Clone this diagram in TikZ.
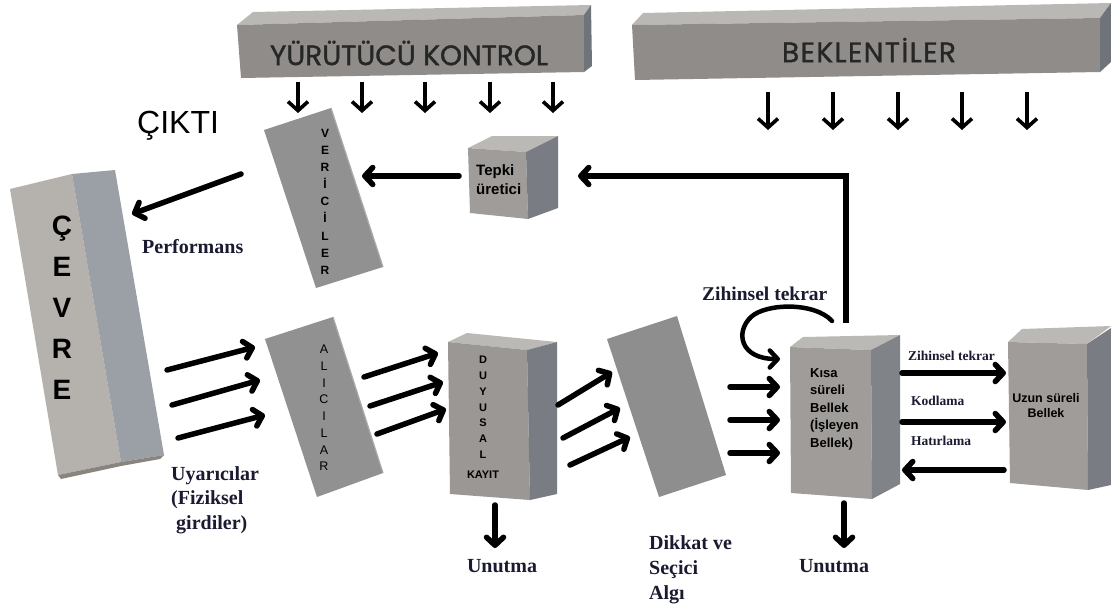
\documentclass[tikz,border=0pt]{standalone}
\usepackage{fontspec}
\setmainfont{Liberation Serif}
\setsansfont{Liberation Sans}
\newfontfamily\geofont{Poppins}[FakeBold=1.2]
\newfontfamily\geowide{Poppins}[FakeBold=1.2,LetterSpace=5]
\usetikzlibrary{arrows.meta}

\definecolor{barTop}{HTML}{BAB8B4}
\definecolor{barFront}{HTML}{8F8C89}
\definecolor{barSide}{HTML}{6F747A}
\definecolor{boxTop}{HTML}{BBB9B6}
\definecolor{boxFront}{HTML}{9F9C99}
\definecolor{boxSide}{HTML}{797D83}
\definecolor{slabFill}{HTML}{919191}
\definecolor{slabEdge}{HTML}{A8ACB1}
\definecolor{envFront}{HTML}{B5B1AC}
\definecolor{envSide}{HTML}{9BA0A6}
\definecolor{envBottom}{HTML}{8A847E}
\definecolor{labelInk}{HTML}{1A1A30}

\begin{document}
\begin{tikzpicture}[x=1pt,y=-1pt,
  flow/.style={line width=5.5pt, line cap=round, line join=round,
     -{Straight Barb[length=8pt,width=17pt,round]}},
  drop/.style={line width=3.6pt, -{Straight Barb[length=9pt,width=20pt]}},
  tag/.style={inner sep=0pt, text=labelInk, font=\bfseries\fontsize{20}{25}\selectfont, align=left},
  smalltag/.style={inner sep=0pt, text=labelInk, font=\bfseries\fontsize{13.5}{16}\selectfont},
  boxtext/.style={inner sep=0pt, font=\sffamily\bfseries\fontsize{13}{17.5}\selectfont},
  stack/.style={inner sep=0pt, align=center, font=\sffamily\bfseries\fontsize{12}{#1}\selectfont},
  bartext/.style={inner sep=0pt, text=black!85}
]
\useasboundingbox (0,0) rectangle (1111,608);
\fill[white] (0,0) rectangle (1111,608);

% ---------- executive control bar ----------
\fill[barTop]   (237,25) -- (253,12) -- (591,5) -- (584,15) -- cycle;
\fill[barFront] (237,25) -- (584,15) -- (584,72) -- (241,78) -- cycle;
\fill[barSide]  (584,15) -- (591,5) -- (592,66) -- (584,72) -- cycle;
\node[bartext, font=\geofont\fontsize{28}{30}\selectfont] (exec) at (409,53) {YÜRÜTÜCÜ KONTROL};
\foreach \i/\x in {1/298,2/362,3/425,4/490,5/553}{
  \coordinate (ea\i) at (\x,82); \coordinate (eb\i) at (\x,113);
  \draw[drop] (ea\i) -- (eb\i);
}

% ---------- expectations bar ----------
\fill[barTop]   (632,25) -- (643,13) -- (1111,3) -- (1100,18) -- cycle;
\fill[barFront] (632,25) -- (1100,18) -- (1100,72) -- (635,80) -- cycle;
\fill[barSide]  (1100,18) -- (1111,3) -- (1111,62) -- (1100,72) -- cycle;
\node[bartext, font=\geowide\fontsize{28}{30}\selectfont] (expect) at (869,50) {BEKLENTİLER};
\foreach \i/\x in {1/768,2/833,3/898,4/962,5/1027}{
  \coordinate (xa\i) at (\x,92); \coordinate (xb\i) at (\x,130);
  \draw[drop] (xa\i) -- (xb\i);
}

% ---------- environment ----------
\fill[envFront]  (10,189) -- (72,174) -- (121,462) -- (58,475) -- cycle;
\fill[envSide]   (72,174) -- (115,170) -- (164,455) -- (121,462) -- cycle;
\fill[envBottom] (58,475) -- (121,462) -- (164,455) -- (160,459) -- (121,466) -- (61,479) -- cycle;
\node[inner sep=0pt, anchor=north, align=center,
      font=\sffamily\bfseries\fontsize{28}{41}\selectfont] (env) at (62,216) {Ç\\E\\V\\R\\E};

\node[inner sep=0pt, anchor=base west, font=\sffamily\fontsize{32}{36}\selectfont] (out) at (137,133) {ÇIKTI};

% ---------- transmitters ----------
\fill[slabFill] (264,130) -- (331,108) -- (383,267) -- (316,288) -- cycle;
\draw[slabEdge, line width=1.2pt] (331,108) -- (383,267);
\node[stack=17.1, anchor=north] (trans) at (325,129) {V\\E\\R\\İ\\C\\İ\\L\\E\\R};

% ---------- receivers ----------
\fill[slabFill] (265,339) -- (333,317) -- (383,473) -- (317,497) -- cycle;
\draw[slabEdge, line width=1.2pt] (333,317) -- (383,473);
\node[stack=16.7, anchor=north, font=\sffamily\fontsize{12.5}{16.7}\selectfont] (recv) at (324,345) {A\\L\\I\\C\\I\\L\\A\\R};

% ---------- attention filter ----------
\fill[slabFill!103] (607,339) -- (677,316) -- (726,475) -- (659,497) -- cycle;

% ---------- response generator ----------
\fill[boxTop]   (468,148) -- (492,136) -- (558,136) -- (526,152) -- cycle;
\fill[boxFront] (468,148) -- (526,152) -- (528,219) -- (470,213) -- cycle;
\fill[boxSide]  (526,152) -- (558,136) -- (558,208) -- (528,219) -- cycle;
\node[boxtext, anchor=north west, align=left, font=\sffamily\bfseries\fontsize{15}{19}\selectfont]
  (resp) at (476,164) {Tepki\\üretici};

% ---------- sensory register ----------
\fill[boxTop]   (448,342) -- (467,333) -- (557,342) -- (527,350) -- cycle;
\fill[boxFront!105] (448,342) -- (527,350) -- (530,500) -- (450,494) -- cycle;
\fill[boxSide]  (527,350) -- (557,342) -- (557,494) -- (530,500) -- cycle;
\node[inner sep=0pt, anchor=north, align=center, font=\sffamily\bfseries\fontsize{11}{15.8}\selectfont]
  (sens) at (483,356) {D\\U\\Y\\U\\S\\A\\L\\[4pt]KAYIT};

% ---------- short-term memory ----------
\fill[boxTop]   (790,347) -- (803,337) -- (900,335) -- (871,350) -- cycle;
\fill[boxFront] (790,347) -- (871,350) -- (872,499) -- (791,493) -- cycle;
\fill[boxSide!95]  (871,350) -- (900,335) -- (900,484) -- (872,499) -- cycle;
\node[boxtext, anchor=north west, align=left] (stm) at (810,368)
  {Kısa\\süreli\\Bellek\\(İşleyen\\Bellek)};

% ---------- long-term memory ----------
\fill[boxTop]   (1008,342) -- (1022,329) -- (1111,326) -- (1087,344) -- cycle;
\fill[boxFront] (1008,342) -- (1087,344) -- (1088,490) -- (1010,483) -- cycle;
\fill[boxSide]  (1087,344) -- (1111,328) -- (1111,485) -- (1088,490) -- cycle;
\node[boxtext, anchor=north, align=center, font=\sffamily\bfseries\fontsize{12.5}{15.5}\selectfont]
  (ltm) at (1046,393) {Uzun süreli\\Bellek};

% ---------- connectors ----------
% performance back to the environment
\coordinate (perfS) at (241,174); \coordinate (perfE) at (132,214);
\draw[flow] (perfS) -- (perfE);
% response generator to transmitters
\coordinate (respS) at (459,176); \coordinate (respE) at (362,176);
\draw[flow] (respS) -- (respE);
% feedback from short-term memory to response generator
\coordinate (fbS) at (846,323); \coordinate (fbE) at (578,176);
\draw[flow, line cap=butt, line join=miter] (fbS) |- (fbE);

% stimuli into receivers
\foreach \i/\ax/\ay/\bx/\by in {1/167/370/255/347, 2/172/405/260/380, 3/178/438/265/415}{
  \coordinate (ua\i) at (\ax,\ay); \coordinate (ub\i) at (\bx,\by);
  \draw[flow] (ua\i) -- (ub\i);
}
% receivers into sensory register
\foreach \i/\ax/\ay/\bx/\by in {1/364/377/438/353, 2/370/406/443/382, 3/377/434/446/409}{
  \coordinate (ra\i) at (\ax,\ay); \coordinate (rb\i) at (\bx,\by);
  \draw[flow] (ra\i) -- (rb\i);
}
% sensory register into attention
\foreach \i/\ax/\ay/\bx/\by in {1/558/405/612/372, 2/563/438/620/408, 3/570/465/630/437}{
  \coordinate (sa\i) at (\ax,\ay); \coordinate (sb\i) at (\bx,\by);
  \draw[flow] (sa\i) -- (sb\i);
}
% attention into short-term memory
\foreach \i/\y in {1/387,2/420,3/453}{
  \coordinate (da\i) at (730,\y); \coordinate (db\i) at (780,\y);
  \draw[flow] (da\i) -- (db\i);
}
% rehearsal loop
\coordinate (lpS) at (832,321); \coordinate (lpE) at (780,359);
\draw[flow, line width=4.5pt] (lpS) .. controls (815,302) and (766,303) .. (751,317)
  .. controls (735,332) and (740,359) .. (lpE);
\node[tag, anchor=base west, font=\bfseries\fontsize{19.5}{24}\selectfont] (reh) at (702,300) {Zihinsel tekrar};

% short-term <-> long-term
\coordinate (m1a) at (902,373); \coordinate (m1b) at (1006,373);
\coordinate (m2a) at (902,422); \coordinate (m2b) at (1006,422);
\coordinate (m3a) at (1004,470); \coordinate (m3b) at (902,470);
\draw[flow] (m1a) -- (m1b);
\draw[flow] (m2a) -- (m2b);
\draw[flow] (m3a) -- (m3b);
\node[smalltag, anchor=base west] (lblReh) at (908,360) {Zihinsel tekrar};
\node[smalltag, anchor=base west] (lblEnc) at (911,405) {Kodlama};
\node[smalltag, anchor=base west] (lblRec) at (911,445) {Hatırlama};

% forgetting
\coordinate (f1a) at (495,505); \coordinate (f1b) at (495,548);
\coordinate (f2a) at (844,503); \coordinate (f2b) at (844,548);
\draw[flow] (f1a) -- (f1b);
\draw[flow] (f2a) -- (f2b);
\node[tag, anchor=base] (forget1) at (502,572) {Unutma};
\node[tag, anchor=base] (forget2) at (834,572) {Unutma};

% remaining labels
\node[tag, anchor=base west] (perf) at (142,253) {Performans};
\node[tag, anchor=north west, font=\bfseries\fontsize{20}{24.5}\selectfont] (stim) at (171,466)
  {Uyarıcılar\\(Fiziksel\\\hspace*{5pt}girdiler)};
\node[tag, anchor=north west] (attn) at (649,535) {Dikkat ve\\Seçici\\Algı};
\end{tikzpicture}
\end{document}
